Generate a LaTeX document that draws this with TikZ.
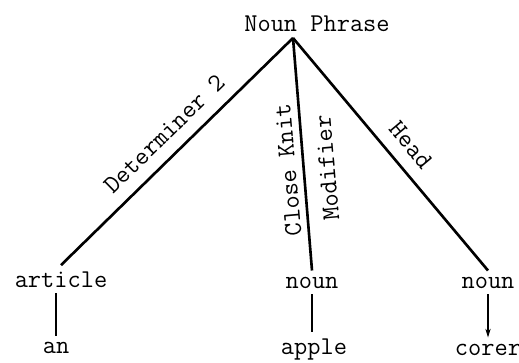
\documentclass[tikz,border=0pt]{standalone}
\usepackage{fontspec}
\usetikzlibrary{arrows.meta}

\begin{document}
\begin{tikzpicture}[x=0.02cm, y=-0.02cm,
  word/.style={font=\ttfamily\fontsize{14.6}{17}\selectfont, anchor=base},
  branch/.style={line width=1.5pt},
  lab/.style={font=\ttfamily\fontsize{14.6}{17}\selectfont, sloped, above, inner sep=7pt},
  vlab/.style={font=\ttfamily\fontsize{14.6}{17}\selectfont, rotate=95}]
\useasboundingbox (0,0) rectangle (519,362);

% The top of the tree
\node[word] (np) at (317,31) {Noun Phrase};
\coordinate (top) at (293,38);

% The three constituents
\node[word] (art) at (61,287) {article};
\node[word] (nm) at (312,288) {noun};
\node[word] (nr) at (488,288) {noun};

% The words at the bottom
\node[word] (an) at (56,353) {an};
\node[word] (apple) at (314,354) {apple};
\node[word] (corer) at (488,355) {corer};

% Draw the branches with their labels
\draw[branch] (top) -- (art.north) node[lab, pos=0.49] {Determiner 2};
\draw[branch] (top) -- (nm.north);
\draw[branch] (top) -- (nr.north) node[lab, pos=0.52] {Head};
\node[vlab] (ck) at (288,170) {Close Knit};
\node[vlab] (mod) at (327,168) {Modifier};

% Draw the lines down to the words
\draw[branch] (an.north |- art.south) -- (an.north);
\draw[branch] (nm.south) -- (nm.south |- apple.north);
\draw[line width=0.6pt, -{Stealth[length=5pt, width=3pt]}] (nr.south) -- (nr.south |- corer.north);

\end{tikzpicture}
\end{document}
